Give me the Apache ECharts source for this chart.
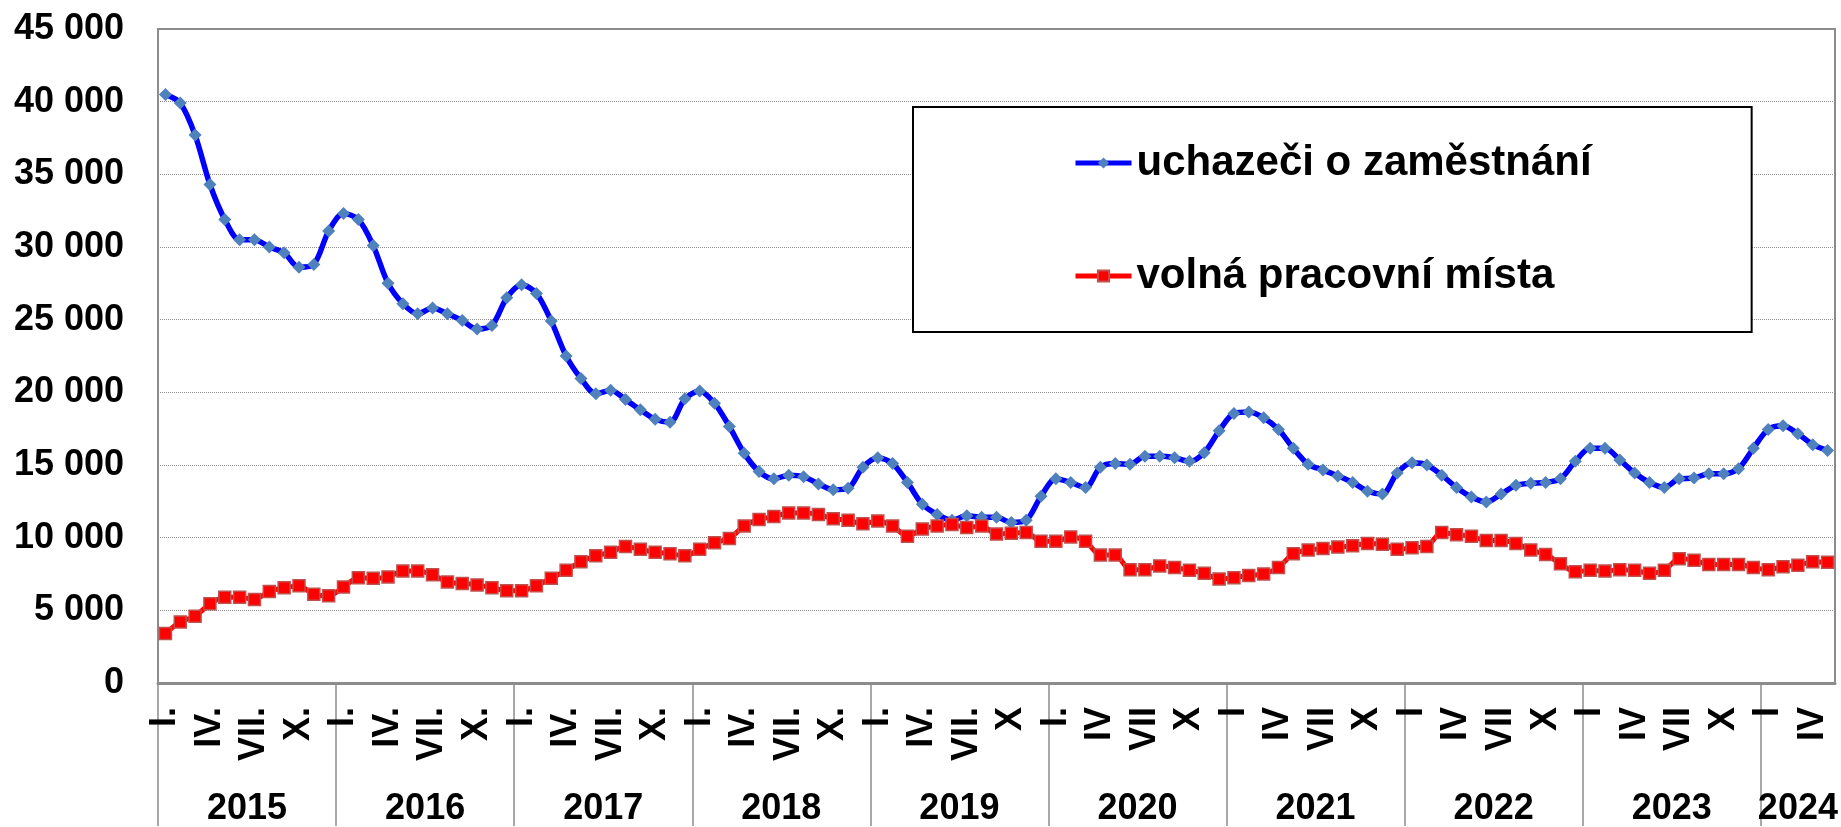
<!DOCTYPE html>
<html>
<head>
<meta charset="utf-8">
<script src="https://cdn.jsdelivr.net/npm/echarts@6/dist/echarts.min.js"></script>
<style>
  html, body { margin: 0; padding: 0; background: #fff; }
  #chart { width: 1841px; height: 827px; }
</style>
</head>
<body>
<div id="chart"></div>
<script>
// ---- data ----
const YEARS = ['2015', '2016', '2017', '2018', '2019', '2020', '2021', '2022', '2023', '2024'];
const MONTHS_IN_YEAR = [12, 12, 12, 12, 12, 12, 12, 12, 12, 5];
// quarter month labels shown for each year (months I, IV, VII, X)
const MONTH_TICK_LABELS = [
  ['I.', 'IV.', 'VII.', 'X.'],
  ['I.', 'IV.', 'VII.', 'X.'],
  ['I.', 'IV.', 'VII.', 'X.'],
  ['I.', 'IV.', 'VII.', 'X.'],
  ['I.', 'IV.', 'VII.', 'X'],
  ['I.', 'IV', 'VII', 'X'],
  ['I', 'IV', 'VII', 'X'],
  ['I', 'IV', 'VII', 'X'],
  ['I', 'IV', 'VII', 'X'],
  ['I', 'IV', 'VII', 'X']
];
const SERIES_NAMES = ['uchazeči o zaměstnání', 'volná pracovní místa'];
const UCHAZECI = [
  40500, 39900, 37700, 34300, 31900, 30500, 30500, 30000, 29600, 28600, 28800, 31100,
  32300, 31900, 30100, 27500, 26100, 25400, 25800, 25400, 24950, 24350, 24600, 26500,
  27400, 26800, 24900, 22500, 20950, 19900, 20150, 19500, 18800, 18150, 17950, 19550,
  20100, 19250, 17650, 15800, 14550, 14050, 14300, 14200, 13700, 13300, 13400, 14850,
  15500, 15100, 13800, 12300, 11600, 11200, 11500, 11400, 11400, 11050, 11200, 12850,
  14050, 13800, 13450, 14850, 15100, 15050, 15600, 15600, 15500, 15250, 15850, 17350,
  18550, 18650, 18250, 17450, 16150, 15050, 14650, 14250, 13800, 13200, 13000, 14450,
  15150, 15000, 14300, 13450, 12800, 12450, 13000, 13600, 13750, 13800, 14050, 15250,
  16150, 16150, 15350, 14450, 13800, 13450, 14050, 14100, 14400, 14400, 14750, 16150,
  17450, 17700, 17150, 16400, 16000
];
const VOLNA_MISTA = [
  3400, 4200, 4600, 5450, 5900, 5900, 5750, 6300, 6550, 6700, 6100, 6000,
  6600, 7250, 7200, 7300, 7700, 7700, 7450, 6950, 6850, 6750, 6550, 6350,
  6350, 6700, 7200, 7750, 8350, 8750, 9000, 9400, 9200, 9000, 8900, 8750,
  9200, 9650, 9950, 10800, 11250, 11450, 11700, 11700, 11600, 11300, 11200, 10950,
  11150, 10800, 10100, 10600, 10800, 10900, 10700, 10800, 10250, 10300, 10350, 9750,
  9750, 10050, 9750, 8800, 8800, 7800, 7800, 8050, 7950, 7750, 7550, 7150,
  7250, 7400, 7500, 7950, 8900, 9150, 9250, 9350, 9450, 9600, 9550, 9200,
  9300, 9400, 10350, 10200, 10100, 9800, 9800, 9600, 9150, 8850, 8200, 7650,
  7750, 7700, 7800, 7750, 7550, 7750, 8550, 8450, 8150, 8150, 8150, 7950,
  7800, 8000, 8100, 8350, 8300
];
const Y_MIN = 0, Y_MAX = 45000, Y_STEP = 5000;

// ---- build categories ----
const monthKeys = [];
const monthYearIdx = [];
const monthInYear = [];
YEARS.forEach((y, yi) => {
  for (let m = 0; m < MONTHS_IN_YEAR[yi]; m++) {
    monthKeys.push(y + '-' + (m + 1));
    monthYearIdx.push(yi);
    monthInYear.push(m);
  }
});
const N = monthKeys.length;
// half-month boundary grid for year separators / year labels
const halfKeys = [];
for (let j = 0; j <= 2 * N; j++) halfKeys.push('h' + j);
const yearStartHalf = [];
const yearCenterHalf = [];
{
  let acc = 0;
  YEARS.forEach((y, yi) => {
    yearStartHalf.push(2 * acc);
    yearCenterHalf.push(2 * acc + MONTHS_IN_YEAR[yi]);
    acc += MONTHS_IN_YEAR[yi];
  });
}

const FONT = '"Liberation Sans", Arial, Helvetica, sans-serif';
const GRAY = '#8c8c8c';

const chart = echarts.init(document.getElementById('chart'), null, { renderer: 'canvas' });
chart.setOption({
  animation: false,
  backgroundColor: '#fff',
  grid: {
    left: 158, right: 6, top: 29, bottom: 143,
    show: true, borderColor: GRAY, borderWidth: 2, backgroundColor: 'transparent'
  },
  legend: {
    orient: 'vertical',
    left: 913, top: 107,
    padding: [31, 160, 31, 160],
    backgroundColor: '#fff',
    borderColor: '#000', borderWidth: 2,
    itemWidth: 56, itemHeight: 14, itemGap: 63,
    lineStyle: { width: 5 },
    textStyle: { fontFamily: FONT, fontSize: 42, fontWeight: 'bold', color: '#000', lineHeight: 50 },
    data: SERIES_NAMES
  },
  xAxis: [
    {
      type: 'category',
      data: monthKeys,
      boundaryGap: true,
      axisLine: { show: true, lineStyle: { color: GRAY, width: 3 } },
      axisTick: { show: false },
      splitLine: { show: false },
      axisLabel: {
        interval: (i) => monthInYear[i] % 3 === 0,
        rotate: 90,
        margin: 24,
        fontFamily: FONT, fontSize: 36, fontWeight: 'bold', color: '#000',
        formatter: (v, i) => MONTH_TICK_LABELS[monthYearIdx[i]][Math.floor(monthInYear[i] / 3)]
      }
    },
    {
      type: 'category',
      data: halfKeys,
      boundaryGap: false,
      position: 'bottom',
      axisLine: { show: false },
      axisTick: {
        show: true,
        interval: (j) => yearStartHalf.indexOf(j) >= 0,
        length: 143,
        lineStyle: { color: GRAY, width: 1.5 }
      },
      splitLine: { show: false },
      axisLabel: {
        interval: (j) => yearCenterHalf.indexOf(j) >= 0,
        margin: 108,
        fontFamily: FONT, fontSize: 36, fontWeight: 'bold', color: '#000',
        formatter: (v, j) => {
          const yi = yearCenterHalf.indexOf(j);
          return yi >= 0 ? YEARS[yi] : '';
        }
      }
    }
  ],
  yAxis: {
    type: 'value',
    min: Y_MIN, max: Y_MAX, interval: Y_STEP,
    axisLine: { show: true, lineStyle: { color: GRAY, width: 2 } },
    axisTick: { show: false },
    splitLine: { show: true, lineStyle: { type: 'dotted', color: '#8f8f8f', width: 1 } },
    axisLabel: {
      margin: 34,
      fontFamily: FONT, fontSize: 36, fontWeight: 'bold', color: '#000',
      formatter: (v) => String(v).replace(/\B(?=(\d{3})+(?!\d))/g, ' ')
    }
  },
  series: [
    {
      name: SERIES_NAMES[0],
      type: 'line',
      xAxisIndex: 0,
      data: UCHAZECI,
      smooth: 0.3,
      showAllSymbol: true,
      symbol: 'diamond',
      symbolSize: 13,
      lineStyle: { color: '#0000FF', width: 5.5 },
      itemStyle: { color: '#4F81BD' },
      emphasis: { disabled: true }
    },
    {
      name: SERIES_NAMES[1],
      type: 'line',
      xAxisIndex: 0,
      data: VOLNA_MISTA,
      smooth: 0.3,
      showAllSymbol: true,
      symbol: 'rect',
      symbolSize: 12,
      lineStyle: { color: '#FF0000', width: 5 },
      itemStyle: { color: '#FF0000', borderColor: '#C0504D', borderWidth: 1.5 },
      emphasis: { disabled: true }
    }
  ]
});
</script>
</body>
</html>
